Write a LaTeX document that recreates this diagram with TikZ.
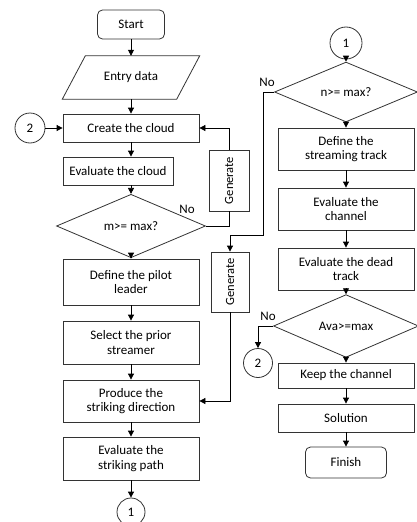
\documentclass[tikz,border=0pt]{standalone}
\usepackage{fontspec}
\setmainfont{Carlito}
\usetikzlibrary{shapes.geometric,arrows.meta}
\tikzset{>={Triangle[length=6pt,width=6pt]}}
\tikzset{
  box/.style={draw=black!80, line width=0.8pt, align=center, minimum width=136pt, inner sep=1pt},
  term/.style={box, rounded corners=5pt, minimum width=67pt, minimum height=29pt},
  test/.style={draw=black!80, line width=0.8pt, diamond, inner sep=0pt},
  conn/.style={draw=black!80, line width=0.8pt, circle, inner sep=0pt},
  genbox/.style={box, rotate=90, minimum width=61pt, minimum height=40pt, font=\fontsize{12.5}{14}\selectfont},
  flow/.style={line width=0.8pt, ->},
}

\begin{document}
\begin{tikzpicture}[x=1pt, y=-1pt, font=\fontsize{13}{14.5}\selectfont]
\useasboundingbox (0,0) rectangle (417,522);
% left column
\node[term] (start) at (131,24.5) {Start};
\node[minimum width=91pt, minimum height=43pt, inner sep=0pt] (entry) at (131,77.5) {Entry data};
\draw[line width=0.8pt, draw=black!80] ([xshift=-23pt]entry.south west) -- (entry.south east)
  -- ([xshift=23pt]entry.north east) -- (entry.north west) -- cycle;
\node[box, minimum height=28pt] (create) at (131,128) {Create the cloud};
\node[conn, minimum size=30pt] (c2a) at (30,128) {2};
\node[box, minimum width=110pt, minimum height=28pt] (evalc) at (118,171) {Evaluate the cloud};
\node[test, minimum width=149pt, minimum height=41pt] (mtest) at (131,226) {m>= max?};
\node (no1) at (187,209) {No};
\node[box, minimum height=46pt] (pilot) at (131,282) {Define the pilot\\leader};
\node[box, minimum height=43pt] (prior) at (131,342.5) {Select the prior\\streamer};
\node[box, minimum height=42pt] (direction) at (131,401) {Produce the\\striking direction};
\node[box, minimum height=43pt] (path) at (131,458.5) {Evaluate the\\striking path};
\node[conn, minimum size=28pt] (c1b) at (131,512) {1};
% generate boxes
\node[genbox] (gen1) at (229,180.5) {Generate};
\node[genbox, minimum width=60pt, minimum height=38pt] (gen2) at (230,282) {Generate};
% right column
\node[conn, minimum size=32pt] (c1t) at (346,43) {1};
\node[test, minimum width=143pt, minimum height=38pt] (ntest) at (346,92) {n>= max?};
\node (no2) at (267,82) {No};
\node[box, minimum height=42pt] (stream) at (346,149) {Define the\\streaming track};
\node[box, minimum height=42pt] (channel) at (346,209) {Evaluate the\\channel};
\node[box, minimum height=42pt] (dead) at (346,269) {Evaluate the dead\\track};
\node[test, minimum width=145pt, minimum height=39pt] (atest) at (346,326) {Ava>=max};
\node (no3) at (268,316) {No};
\node[conn, minimum size=29pt] (c2b) at (258,363) {2};
\node[box, minimum height=25pt] (keep) at (346,375.5) {Keep the channel};
\node[box, minimum height=28pt] (sol) at (346,418) {Solution};
\node[term, minimum width=81pt, minimum height=31pt] (finish) at (346,462.5) {Finish};
\coordinate (bend) at (263,235);

% connectors
\draw[flow] (start) -- (entry);
\draw[flow] (entry) -- (create);
\draw[flow] (c2a) -- (create);
\draw[flow] (create) -- (create.south |- evalc.north);
\draw[flow] (evalc.south -| create) -- (mtest);
\draw[flow] (mtest) -- (pilot);
\draw[flow] (pilot) -- (prior);
\draw[flow] (prior) -- (direction);
\draw[flow] (direction) -- (path);
\draw[flow] (path) -- (c1b);
\draw[line width=0.8pt] (mtest.east) -| (gen1.west);
\draw[flow] (gen1.east) |- (create.east);
\draw[flow] (c1t) -- (ntest);
\draw[flow] (ntest) -- (stream);
\draw[flow] (stream) -- (channel);
\draw[flow] (channel) -- (dead);
\draw[flow] (dead) -- (atest);
\draw[flow] (atest) -- (keep);
\draw[flow] (keep) -- (sol);
\draw[flow] (sol) -- (finish);
\draw[flow] (ntest.west) -| (bend) -| (gen2.east);
\draw[flow] (gen2.west) |- (direction.east);
\draw[flow] (atest.west) -| (c2b);
\end{tikzpicture}
\end{document}
